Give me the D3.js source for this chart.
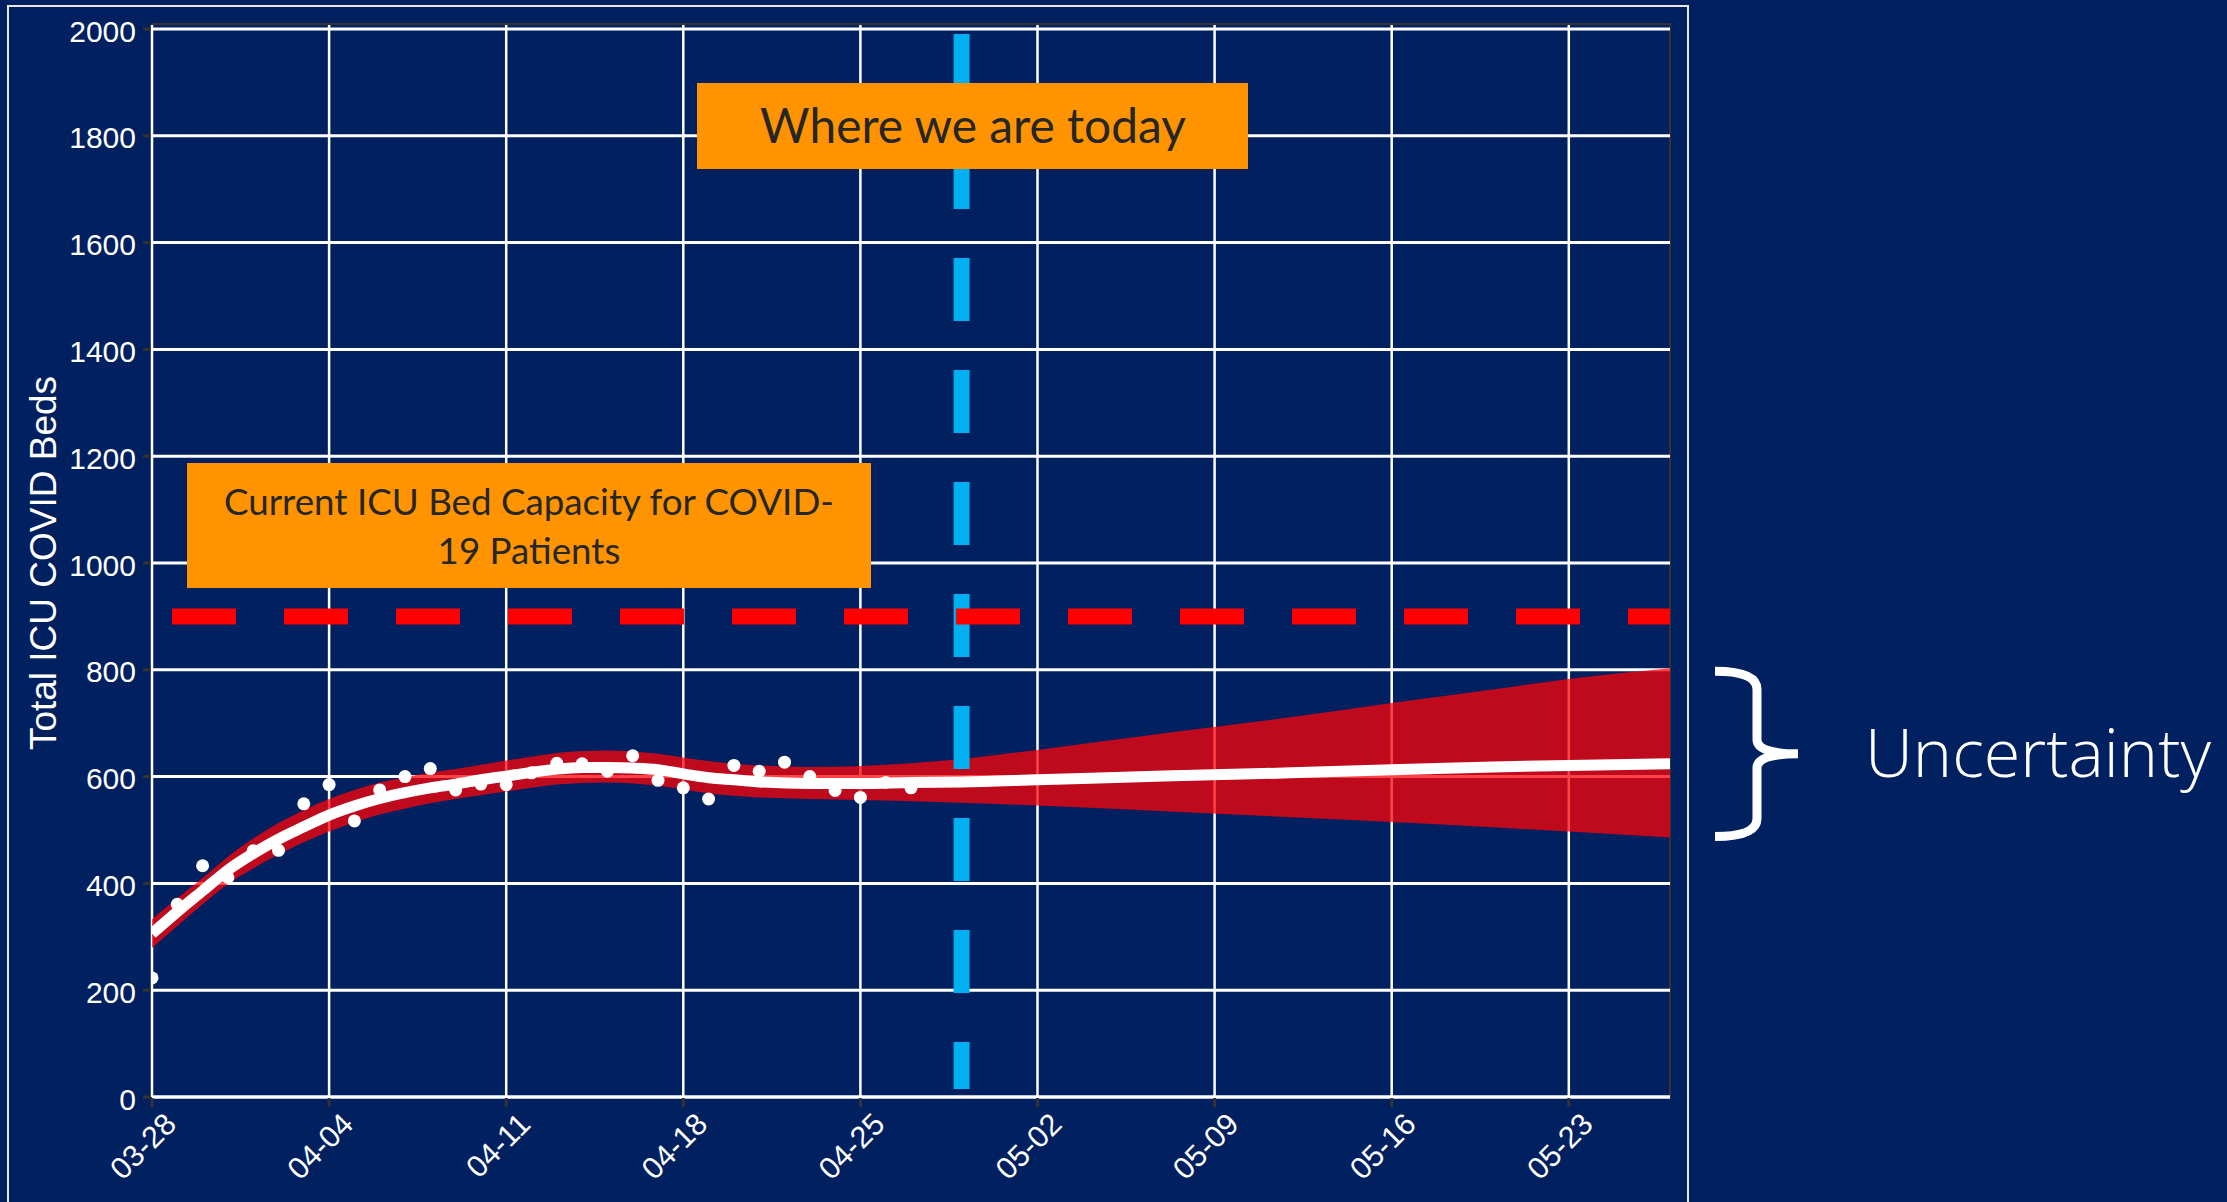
<!DOCTYPE html>
<html>
<head>
<meta charset="utf-8">
<script src="https://cdn.jsdelivr.net/npm/d3@7"></script>
<style>
  html, body { margin: 0; padding: 0; background: #002060; }
  svg { display: block; }
  .tickLabel { font-family: "Liberation Sans", Arial, sans-serif; fill: #ffffff; }
</style>
</head>
<body>
<svg id="icu_chart"></svg>
<script>
// Canvas size and plot box
var width = 2227;
var height = 1202;
var plot = {"left": 152, "right": 1670, "top": 24, "bottom": 1097};

// ---- data ----
var startDate = "2020-03-28";
var endDate = "2020-05-27";
var todayDate = "2020-04-29";
var capacity = 900;

var tickDates = ["2020-03-28", "2020-04-04", "2020-04-11", "2020-04-18", "2020-04-25",
                 "2020-05-02", "2020-05-09", "2020-05-16", "2020-05-23"];
var yTicks = [0, 200, 400, 600, 800, 1000, 1200, 1400, 1600, 1800, 2000];

// observed daily ICU beds, one per day from startDate
var obsValues = [223, 361, 433, 411, 461, 462, 549, 585, 517, 575, 600, 615, 575, 586, 585, 607,
                 625, 624, 610, 639, 593, 579, 558, 621, 610, 627, 600, 574, 561, 589, 579];

// model fit and uncertainty band, day offsets from startDate
var fitDays = [0, 1, 2, 3, 4, 5, 6, 7, 8, 9, 10, 11, 12, 13, 14, 15, 16, 17, 18, 19, 20,
               21, 22, 23, 24, 26, 28, 30, 32, 35, 40, 45, 49, 53, 56, 60];
var fitValues = [306, 347, 386, 425, 456, 483, 506, 528, 545, 559, 570, 579, 586, 594, 601, 608,
                 614, 617, 617, 616, 613, 605, 598, 594, 590, 587, 587, 589, 590, 594, 601, 607,
                 613, 618, 621, 624];
var bandUpper = [333, 372, 410, 450, 484, 513, 537, 558, 575, 589, 599, 607, 614, 622, 630, 637,
                 644, 648, 649, 647, 643, 636, 629, 624, 621, 618, 620, 625, 633, 650, 681, 711,
                 738, 763, 783, 803];
var bandLower = [279, 320, 361, 399, 428, 454, 477, 497, 514, 529, 540, 550, 558, 565, 572, 579,
                 585, 588, 589, 587, 583, 576, 569, 564, 561, 558, 556, 554, 551, 546, 535, 524,
                 515, 505, 497, 486];

var parseDate = d3.timeParse("%Y-%m-%d");
var t0 = parseDate(startDate);
var dayAfter = function(n) { return d3.timeDay.offset(t0, n); };

var svg = d3.select("svg#icu_chart")
  .attr("width", width)
  .attr("height", height);

svg.append("rect")
  .attr("width", width).attr("height", height)
  .attr("fill", "#002060");

// outer frame of the slide picture
svg.append("rect")
  .attr("x", 8).attr("y", 6)
  .attr("width", 1680).attr("height", 1230)
  .attr("fill", "none")
  .attr("stroke", "#e8e8ee")
  .attr("stroke-width", 2);

var xScale = d3.scaleTime()
  .domain([parseDate(startDate), parseDate(endDate)])
  .range([plot.left, plot.right]);

var yScale = d3.scaleLinear()
  .domain([0, 2000])
  .range([plot.bottom, plot.bottom - 1068]);

// plot border
svg.append("rect")
  .attr("x", plot.left).attr("y", plot.top)
  .attr("width", plot.right - plot.left).attr("height", plot.bottom - plot.top)
  .attr("fill", "none")
  .attr("stroke", "#333333")
  .attr("stroke-width", 2);

// grid lines
svg.append("g").selectAll("line.hgrid")
  .data(yTicks)
  .enter()
  .append("line")
  .attr("class", "hgrid")
  .attr("x1", plot.left).attr("x2", plot.right)
  .attr("y1", function(d) { return yScale(d); })
  .attr("y2", function(d) { return yScale(d); })
  .attr("stroke", "#ffffff")
  .attr("stroke-width", function(d) { return d === 0 ? 3.5 : 3; });

svg.append("g").selectAll("line.vgrid")
  .data(tickDates.map(parseDate))
  .enter()
  .append("line")
  .attr("class", "vgrid")
  .attr("x1", function(d) { return xScale(d); })
  .attr("x2", function(d) { return xScale(d); })
  .attr("y1", plot.top + 1).attr("y2", plot.bottom)
  .attr("stroke", "#ffffff")
  .attr("stroke-width", 2.5);

// tick marks
svg.append("g").selectAll("line")
  .data(yTicks)
  .enter()
  .append("line")
  .attr("x1", plot.left - 9).attr("x2", plot.left - 1)
  .attr("y1", function(d) { return yScale(d); })
  .attr("y2", function(d) { return yScale(d); })
  .attr("stroke", "#333333")
  .attr("stroke-width", 3);

svg.append("g").selectAll("line")
  .data(tickDates.map(parseDate))
  .enter()
  .append("line")
  .attr("x1", function(d) { return xScale(d); })
  .attr("x2", function(d) { return xScale(d); })
  .attr("y1", plot.bottom + 1).attr("y2", plot.bottom + 10)
  .attr("stroke", "#333333")
  .attr("stroke-width", 3);

// tick labels
svg.append("g").selectAll("text")
  .data(yTicks)
  .enter()
  .append("text")
  .attr("class", "tickLabel")
  .attr("x", plot.left - 16)
  .attr("y", function(d) { return yScale(d) + 12.6; })
  .attr("font-size", 30)
  .style("text-anchor", "end")
  .text(function(d) { return d; });

var fmt = d3.timeFormat("%m-%d");
svg.append("g").selectAll("text")
  .data(tickDates.map(parseDate))
  .enter()
  .append("text")
  .attr("class", "tickLabel")
  .attr("transform", function(d) {
    return "translate(" + (xScale(d) + 26) + "," + (plot.bottom + 29) + ") rotate(-45)";
  })
  .attr("font-size", 30.5)
  .style("text-anchor", "end")
  .text(function(d) { return fmt(d); });

svg.append("text")
  .attr("class", "tickLabel")
  .attr("transform", "translate(56," + yScale(1000) + ") rotate(-90)")
  .attr("font-size", 37)
  .style("text-anchor", "middle")
  .text("Total ICU COVID Beds");

// clip everything drawn from data to the plot box
svg.append("clipPath").attr("id", "plotClip")
  .append("rect")
  .attr("x", plot.left).attr("y", plot.top)
  .attr("width", plot.right - plot.left).attr("height", plot.bottom - plot.top);

var marks = svg.append("g").attr("clip-path", "url(#plotClip)");

var bandRows = fitDays.map(function(d, i) {
  return {"date": dayAfter(d), "fit": fitValues[i], "hi": bandUpper[i], "lo": bandLower[i]};
});

var area = d3.area()
  .curve(d3.curveMonotoneX)
  .x(function(d) { return xScale(d.date); })
  .y0(function(d) { return yScale(d.lo); })
  .y1(function(d) { return yScale(d.hi); });

marks.append("path")
  .attr("d", area(bandRows))
  .attr("fill", "rgb(255,3,8)")
  .attr("fill-opacity", 0.75);

marks.selectAll("circle.obs")
  .data(obsValues)
  .enter()
  .append("circle")
  .attr("class", "obs")
  .attr("cx", function(d, i) { return xScale(dayAfter(i)); })
  .attr("cy", function(d) { return yScale(d); })
  .attr("r", 6.5)
  .attr("fill", "#ffffff");

var line = d3.line()
  .curve(d3.curveMonotoneX)
  .x(function(d) { return xScale(d.date); })
  .y(function(d) { return yScale(d.fit); });

marks.append("path")
  .attr("d", line(bandRows))
  .attr("fill", "none")
  .attr("stroke", "#ffffff")
  .attr("stroke-width", 11);

// today marker
var tx = xScale(parseDate(todayDate));
marks.append("line")
  .attr("x1", tx).attr("x2", tx)
  .attr("y1", yScale(2000)).attr("y2", yScale(15))
  .attr("stroke", "#00b0f0")
  .attr("stroke-width", 16)
  .attr("stroke-dasharray", "63,49")
  .attr("stroke-dashoffset", 107);

// capacity line
marks.append("line")
  .attr("x1", plot.left).attr("x2", plot.right)
  .attr("y1", yScale(capacity)).attr("y2", yScale(capacity))
  .attr("stroke", "#ff0000")
  .attr("stroke-width", 16)
  .attr("stroke-dasharray", "64,48")
  .attr("stroke-dashoffset", 92);

// fit a text element to a wanted width
var fitWidth = function(sel, w) {
  var len = sel.node().getComputedTextLength();
  sel.attr("font-size", parseFloat(sel.attr("font-size")) * w / len);
};

// annotation boxes
var boxFont = "Lato, 'Open Sans', sans-serif";

svg.append("rect")
  .attr("x", 697).attr("y", 83).attr("width", 551).attr("height", 86)
  .attr("fill", "#ff9400");
var todayText = svg.append("text")
  .attr("x", 973).attr("y", 143)
  .attr("font-family", boxFont)
  .attr("font-size", 40)
  .attr("fill", "#262626")
  .style("text-anchor", "middle")
  .text("Where we are today");
fitWidth(todayText, 426);

svg.append("rect")
  .attr("x", 187).attr("y", 463).attr("width", 684).attr("height", 125)
  .attr("fill", "#ff9400");
var capText1 = svg.append("text")
  .attr("x", 529).attr("y", 515)
  .attr("font-family", boxFont)
  .attr("font-size", 34)
  .attr("fill", "#262626")
  .style("text-anchor", "middle")
  .text("Current ICU Bed Capacity for COVID-");
fitWidth(capText1, 610);
svg.append("text")
  .attr("x", 529).attr("y", 564)
  .attr("font-family", boxFont)
  .attr("font-size", capText1.attr("font-size"))
  .attr("fill", "#262626")
  .style("text-anchor", "middle")
  .text("19 Patients");

// uncertainty brace, spanning the band at its right end
var last = bandRows[bandRows.length - 1];
var bTop = yScale(last.hi) + 3, bBot = yScale(last.lo) - 1;
var bMid = (bTop + bBot) / 2;
var bx0 = plot.right + 45, bx1 = plot.right + 87, bxt = plot.right + 128;
svg.append("path")
  .attr("d", "M" + bx0 + "," + bTop +
             " Q" + bx1 + "," + bTop + " " + bx1 + "," + (bTop + 18) +
             " V" + (bMid - 14) +
             " Q" + bx1 + "," + bMid + " " + bxt + "," + bMid +
             " M" + bxt + "," + bMid +
             " Q" + bx1 + "," + bMid + " " + bx1 + "," + (bMid + 14) +
             " V" + (bBot - 18) +
             " Q" + bx1 + "," + bBot + " " + bx0 + "," + bBot)
  .attr("fill", "none")
  .attr("stroke", "#ffffff")
  .attr("stroke-width", 9);

var uncText = svg.append("text")
  .attr("x", 1865).attr("y", 777)
  .attr("font-family", "'Open Sans', Lato, sans-serif")
  .attr("font-weight", 300)
  .attr("font-size", 64)
  .attr("fill", "#ffffff")
  .text("Uncertainty");
fitWidth(uncText, 346);
</script>
</body>
</html>
